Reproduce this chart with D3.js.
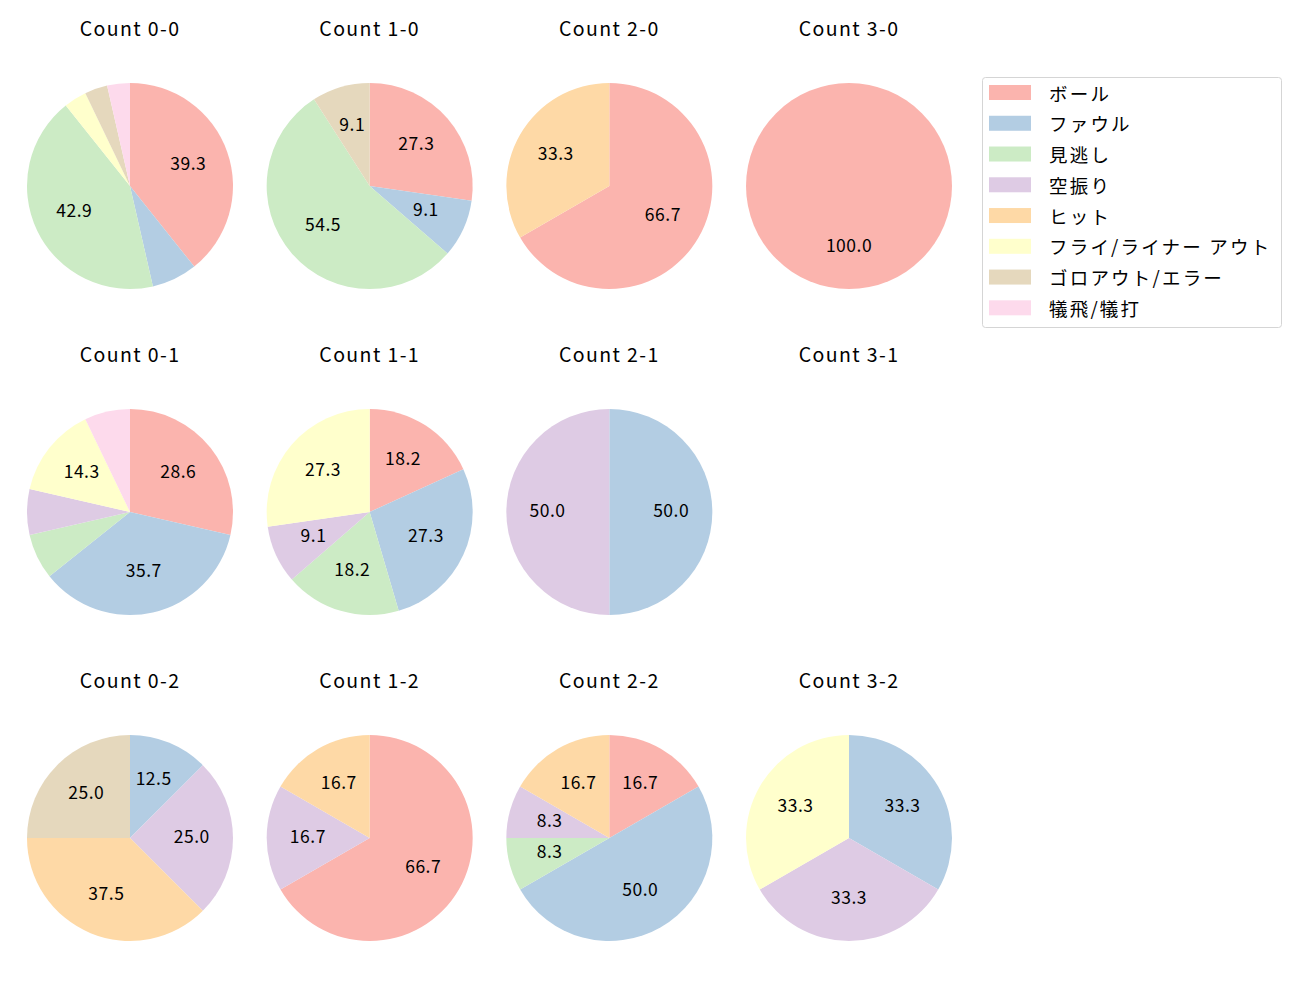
<!DOCTYPE html>
<html>
<head>
<meta charset="utf-8">
<script src="https://cdn.jsdelivr.net/npm/d3@7"></script>
<style>
  body { margin: 0; background: #fff; }
  svg { font-family: "Noto Sans CJK JP", "DejaVu Sans", sans-serif; }
</style>
</head>
<body>
<div id="chart"></div>
<script>
// categories in legend order
const categories = ['ボール', 'ファウル', '見逃し', '空振り', 'ヒット', 'フライ/ライナー アウト', 'ゴロアウト/エラー', '犠飛/犠打']
const colors = ['#fbb4ae', '#b3cde3', '#ccebc5', '#decbe4', '#fed9a6', '#ffffcc', '#e5d8bd', '#fddaec']

// one panel per count, row by row (strikes) and column by column (balls)
const panelTitles = [
    'Count 0-0', 'Count 1-0', 'Count 2-0', 'Count 3-0',
    'Count 0-1', 'Count 1-1', 'Count 2-1', 'Count 3-1',
    'Count 0-2', 'Count 1-2', 'Count 2-2', 'Count 3-2'
]

// pitch counts per category for each panel
const count00 = [11, 2, 12, 0, 0, 1, 1, 1]
const count10 = [3, 1, 6, 0, 0, 0, 1, 0]
const count20 = [2, 0, 0, 0, 1, 0, 0, 0]
const count30 = [1, 0, 0, 0, 0, 0, 0, 0]
const count01 = [4, 5, 1, 1, 0, 2, 0, 1]
const count11 = [2, 3, 2, 1, 0, 3, 0, 0]
const count21 = [0, 1, 0, 1, 0, 0, 0, 0]
const count31 = [0, 0, 0, 0, 0, 0, 0, 0]
const count02 = [0, 1, 0, 2, 3, 0, 2, 0]
const count12 = [4, 0, 0, 1, 1, 0, 0, 0]
const count22 = [2, 6, 1, 1, 2, 0, 0, 0]
const count32 = [0, 1, 0, 1, 0, 1, 0, 0]

const panelValues = [
    count00, count10, count20, count30,
    count01, count11, count21, count31,
    count02, count12, count22, count32
]

const width = 1300
const height = 1000

const svg = d3.select('#chart').append('svg')
    .attr('width', width)
    .attr('height', height)

const colX = d3.scalePoint().domain([0, 1, 2, 3]).range([130, 849])
const rowY = d3.scalePoint().domain([0, 1, 2]).range([186, 838])
const radius = 103

const color = d3.scaleOrdinal().domain(categories).range(colors)

const pie = d3.pie().sort(null).value(d => d.value)
const arc = d3.arc().innerRadius(0).outerRadius(radius)
const labelArc = d3.arc().innerRadius(radius * 0.6).outerRadius(radius * 0.6)

panelTitles.forEach((title, i) => {
    const col = i % 4
    const row = Math.floor(i / 4)
    const g = svg.append('g')
        .attr('transform', `translate(${colX(col)},${rowY(row)})`)

    g.append('text')
        .attr('x', 0)
        .attr('y', -150)
        .attr('text-anchor', 'middle')
        .attr('font-size', '19.5px')
        .attr('letter-spacing', '1.4px')
        .attr('fill', '#000')
        .text(title)

    const data = categories.map((c, k) => ({ cat: c, value: panelValues[i][k] }))
    const total = d3.sum(data, d => d.value)
    if (total === 0) return

    const arcs = pie(data).filter(d => d.data.value > 0)

    g.selectAll('path').data(arcs).enter()
        .append('path')
        .attr('d', arc)
        .attr('fill', d => color(d.data.cat))

    g.selectAll('text.pct').data(arcs.filter(d => d.data.value / total * 100 >= 8)).enter()
        .append('text')
        .attr('class', 'pct')
        .attr('transform', d => {
            // full circle: centroid sits straight below centre
            if (d.endAngle - d.startAngle >= 2 * Math.PI - 1e-6) return `translate(0,${radius * 0.6})`
            return `translate(${labelArc.centroid(d)})`
        })
        .attr('dy', 4.5)
        .attr('text-anchor', 'middle')
        .attr('font-size', '17.5px')
        .attr('letter-spacing', '0.5px')
        .attr('fill', '#000')
        .text(d => (d.data.value / total * 100).toFixed(1))
})

// legend
const legend = svg.append('g').attr('transform', 'translate(982,77)')
legend.append('rect')
    .attr('x', 0.5).attr('y', 0.5)
    .attr('width', 299).attr('height', 250)
    .attr('rx', 3)
    .attr('fill', '#fff')
    .attr('stroke', '#d5d5d5')

const legendItems = legend.selectAll('g.item').data(categories).enter()
    .append('g')
    .attr('class', 'item')
    .attr('transform', (d, i) => `translate(0,${15.5 + i * 30.76})`)

legendItems.append('rect')
    .attr('x', 7).attr('y', -7.5)
    .attr('width', 42).attr('height', 15)
    .attr('fill', d => color(d))

legendItems.append('text')
    .attr('x', 67)
    .attr('y', 0)
    .attr('dominant-baseline', 'central')
    .attr('font-size', '18.5px')
    .attr('letter-spacing', '2.2px')
    .attr('fill', '#000')
    .text(d => d)
</script>
</body>
</html>
